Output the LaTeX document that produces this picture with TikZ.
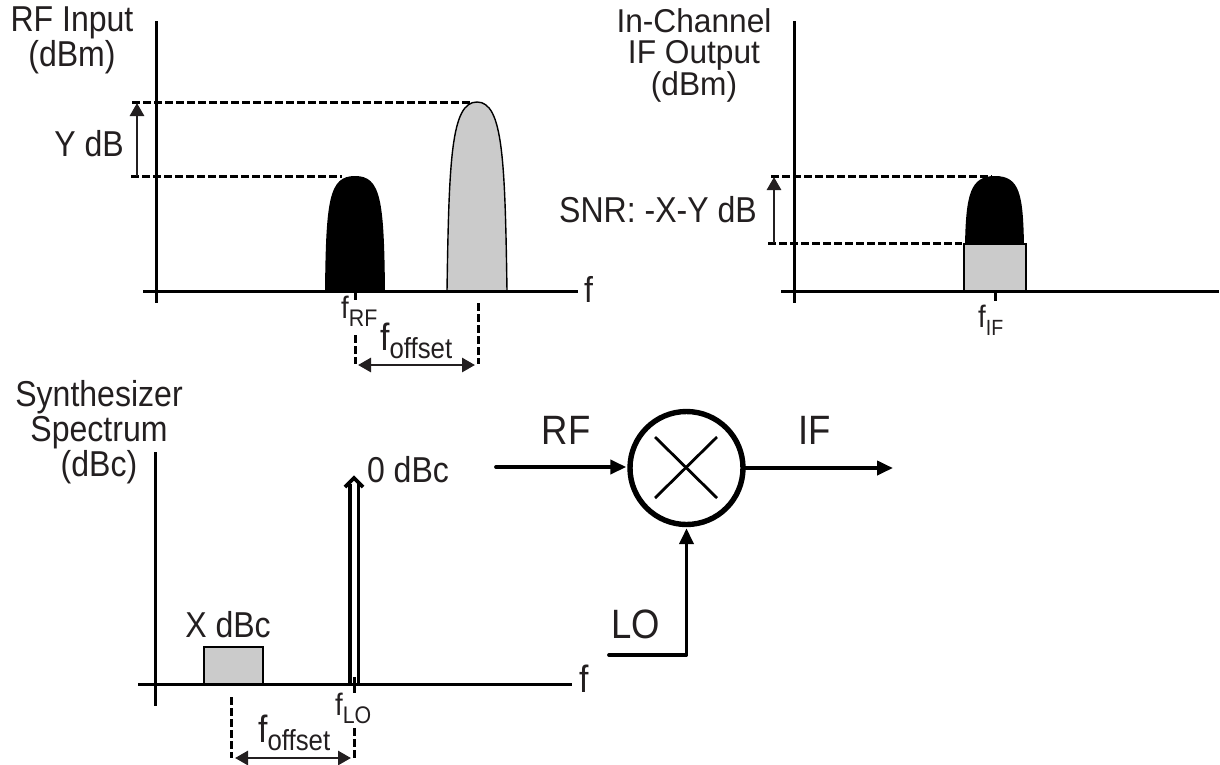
\documentclass[tikz,border=0pt]{standalone}
\usepackage{fontspec}
\setmainfont{Liberation Sans}[FakeStretch=0.89]
\newfontfamily\widerfont{Liberation Sans}[FakeStretch=0.96]
\usetikzlibrary{arrows.meta}
\definecolor{inkblack}{HTML}{231F20}
\definecolor{bandgray}{HTML}{CBCBCB}
\newcommand{\sizedtext}[1]{\fontsize{#1}{#1}\selectfont}
\newcommand{\lowsub}[2]{\raisebox{-8pt}{\sizedtext{#1}#2}}
\begin{document}
\begin{tikzpicture}[x=1pt, y=-1pt, >={Triangle[length=16pt, width=14pt]},
    every node/.style={font=\sizedtext{36}, text=inkblack, inner sep=0pt},
    axisline/.style={draw=black, line width=3pt},
    dashline/.style={draw=black, line width=3pt, dash pattern=on 7.5pt off 3.5pt},
    dimarrow/.style={draw=inkblack, line width=2.8pt, >={Triangle[length=13pt, width=14pt]}},
    sigarrow/.style={draw=black, line width=3.8pt, line cap=round, shorten >=1pt},
    grayband/.style={draw=black, line width=1.4pt, fill=bandgray}]
    \useasboundingbox (0,0) rectangle (1220,764);

    % RF input spectrum
    \coordinate (rftop) at (156,21);
    \coordinate (rfbot) at (156,303);
    \coordinate (rfleft) at (143,291);
    \coordinate (rfright) at (578,291);
    \coordinate (ypeak) at (470,102);
    \coordinate (ypeakl) at (132,102);
    \coordinate (rfpeak) at (342,176);
    \coordinate (rfpeakl) at (131,176);
    \coordinate (yup) at (137,103);
    \coordinate (ydown) at (137,176);
    \coordinate (rftick) at (355,292);
    \coordinate (rfticka) at (355,303);
    \coordinate (offa) at (355,335);
    \coordinate (offb) at (355,364);
    \coordinate (offc) at (478,303);
    \coordinate (offd) at (478,364);
    \coordinate (offl) at (358,365);
    \coordinate (offr) at (475,365);
    \fill[black] (325,291) .. controls (326,200) and (329,176) .. (355,176) .. controls (381,176) and (384,200) .. (385,291) -- cycle;
    \path[grayband] (447,291) .. controls (449,160) and (451,102) .. (477,102) .. controls (503,102) and (505,160) .. (507,291) -- cycle;
    \draw[axisline] (rftop) -- (rfbot);
    \draw[axisline] (rfleft) -- (rfright);
    \draw[dashline] (ypeakl) -- (ypeak);
    \draw[dashline] (rfpeakl) -- (rfpeak);
    \draw[dimarrow, ->] (ydown) -- (yup);
    \draw[dashline] (rftick) -- (rfticka);
    \draw[dashline] (offa) -- (offb);
    \draw[dashline] (offc) -- (offd);
    \draw[dimarrow, <->] (offl) -- (offr);
    \node[align=center] (rfname) at (72,40) {RF Input\\[-1pt](dBm)};
    \node (ylabel) at (89,144) {Y dB};
    \node[anchor=base west] (rffreq) at (341,318) {\sizedtext{31}f\lowsub{24}{RF}};
    \node[anchor=base west] (rfoffset) at (380,350) {\sizedtext{38}f\lowsub{29}{offset}};
    \node[anchor=base west] (rfaxis) at (584,302) {f};

    % IF output spectrum
    \coordinate (iftop) at (794,21);
    \coordinate (ifbot) at (794,303);
    \coordinate (ifleft) at (781,291);
    \coordinate (ifright) at (1219,291);
    \coordinate (snrhigh) at (992,176);
    \coordinate (snrhighl) at (771,176);
    \coordinate (snrlow) at (962,243);
    \coordinate (snrlowl) at (768,243);
    \coordinate (snrup) at (774,177);
    \coordinate (snrdown) at (774,243);
    \coordinate (iftick) at (995,291);
    \coordinate (ifticka) at (995,301);
    \fill[black] (965,245) .. controls (966,195) and (970,176) .. (995,176) .. controls (1020,176) and (1023,195) .. (1024,245) -- cycle;
    \path[grayband] (964,244) rectangle (1026,291);
    \draw[axisline] (iftop) -- (ifbot);
    \draw[axisline] (ifleft) -- (ifright);
    \draw[axisline] (iftick) -- (ifticka);
    \draw[dashline] (snrhighl) -- (snrhigh);
    \draw[dashline] (snrlowl) -- (snrlow);
    \draw[dimarrow, ->] (snrdown) -- (snrup);
    \node[align=center, font=\widerfont\fontsize{33}{31.5}\selectfont] (ifname) at (694,55) {In-Channel\\IF Output\\(dBm)};
    \node (snrlabel) at (658,210) {SNR: -X-Y dB};
    \node[anchor=base west] (iffreq) at (978,327) {\sizedtext{31}f\lowsub{22}{IF}};

    % synthesizer spectrum
    \coordinate (lotop) at (155,452);
    \coordinate (lobot) at (155,706);
    \coordinate (loleft) at (138,684);
    \coordinate (loright) at (572,684);
    \coordinate (toneat) at (350,684);
    \coordinate (toneau) at (350,484);
    \coordinate (tonebt) at (358,684);
    \coordinate (tonebu) at (358,484);
    \coordinate (tonetipl) at (345,487);
    \coordinate (tonetip) at (354,478);
    \coordinate (tonetipr) at (363,487);
    \coordinate (lotick) at (354,677);
    \coordinate (loticka) at (354,693);
    \coordinate (loa) at (231,697);
    \coordinate (lob) at (231,758);
    \coordinate (loc) at (354,728);
    \coordinate (lod) at (354,758);
    \coordinate (lol) at (235,758);
    \coordinate (lor) at (351,758);
    \path[grayband] (204,647) rectangle (263,684);
    \draw[axisline] (lotop) -- (lobot);
    \draw[axisline] (loleft) -- (loright);
    \draw[axisline, line width=3.6pt] (toneat) -- (toneau);
    \draw[axisline] (tonebt) -- (tonebu);
    \draw[axisline, line width=3.6pt, line join=miter] (tonetipl) -- (tonetip) -- (tonetipr);
    \draw[axisline] (lotick) -- (loticka);
    \draw[dashline] (loa) -- (lob);
    \draw[dashline] (loc) -- (lod);
    \draw[dimarrow, <->] (lol) -- (lor);
    \node[align=center] (synname) at (99,432) {Synthesizer\\[-1pt]Spectrum\\[-1pt](dBc)};
    \node (carrier) at (408,470) {0 dBc};
    \node (spur) at (228,625) {X dBc};
    \node[anchor=base west] (lofreq) at (335,715) {\sizedtext{31}f\lowsub{24}{LO}};
    \node[anchor=base west] (lofoffset) at (258,742) {\sizedtext{38}f\lowsub{29}{offset}};
    \node[anchor=base west] (loaxis) at (579,692) {\sizedtext{38}f};

    % mixer
    \node[circle, draw=black, line width=5.4pt, minimum size=113pt] (mixer) at (686.5,468) {};
    \coordinate (rfin) at (496,467);
    \coordinate (ifout) at (894,468);
    \coordinate (loin) at (609,655);
    \coordinate (locorner) at (686.5,655);
    \coordinate (crossa) at (655,437);
    \coordinate (crossb) at (717,498);
    \coordinate (crossc) at (655,498);
    \coordinate (crossd) at (717,437);
    \draw[draw=black, line width=2.8pt] (crossa) -- (crossb);
    \draw[draw=black, line width=2.8pt] (crossc) -- (crossd);
    \draw[sigarrow, ->] (rfin) -- (rfin -| mixer.west);
    \draw[sigarrow, ->] (mixer.east) -- (ifout);
    \draw[sigarrow, ->, line join=round] (loin) -- (locorner) -- (mixer.south);
    \node (rfport) at (566,430) {\sizedtext{41}RF};
    \node (ifport) at (815,430) {\sizedtext{41}IF};
    \node (loport) at (636,624) {\sizedtext{41}LO};
\end{tikzpicture}
\end{document}
